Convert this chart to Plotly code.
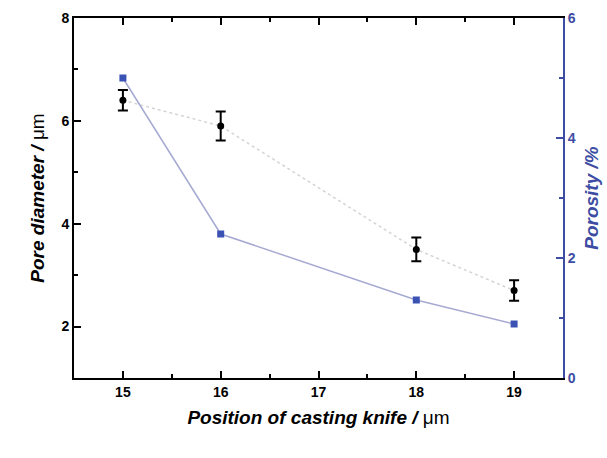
import plotly.graph_objects as go

positions = [15, 16, 18, 19]
pore_diameter = [6.4, 5.9, 3.5, 2.7]
pore_err = [0.2, 0.28, 0.23, 0.2]
porosity = [5.0, 2.4, 1.3, 0.9]

blue = "#3d4da3"
fig = go.Figure()
fig.add_trace(go.Scatter(
    x=positions, y=pore_diameter, mode="lines+markers",
    line=dict(color="#d4d4d4", width=1.5, dash="dot"),
    marker=dict(color="black", size=7, symbol="circle"),
    error_y=dict(type="data", array=pore_err, color="black", thickness=2, width=5),
    yaxis="y", showlegend=False))
fig.add_trace(go.Scatter(
    x=positions, y=porosity, mode="lines+markers",
    line=dict(color="#a6aad2", width=1.5),
    marker=dict(color="#3b52b5", size=7, symbol="square"),
    yaxis="y2", showlegend=False))

tickfont = dict(family="Arial, Liberation Sans", size=14, color="black")
fig.update_layout(
    width=607, height=458,
    margin=dict(l=74, r=44, t=18, b=80),
    paper_bgcolor="white", plot_bgcolor="white",
    xaxis=dict(range=[14.5, 19.5], tickvals=[15, 16, 17, 18, 19],
               ticktext=["<b>15</b>", "<b>16</b>", "<b>17</b>", "<b>18</b>", "<b>19</b>"],
               showline=True, linecolor="black", linewidth=2, mirror="ticks",
               ticks="inside", ticklen=7, tickwidth=1.5, tickcolor="black",
               minor=dict(dtick=0.5, ticks="inside", ticklen=4, tickcolor="black", tickwidth=1.5),
               showgrid=False, zeroline=False, tickfont=tickfont, automargin=False,
               title=dict(text="<b><i>Position of casting knife /</i></b> μm",
                          font=dict(family="Arial, Liberation Sans", size=19, color="black"),
                          standoff=12)),
    yaxis=dict(range=[1, 8], tickvals=[2, 4, 6, 8],
               ticktext=["<b>2</b>", "<b>4</b>", "<b>6</b>", "<b>8</b>"],
               showline=True, linecolor="black", linewidth=2,
               ticks="inside", ticklen=7, tickwidth=1.5, tickcolor="black",
               minor=dict(dtick=1, ticks="inside", ticklen=4, tickcolor="black", tickwidth=1.5),
               showgrid=False, zeroline=False, tickfont=tickfont, automargin=False,
               title=dict(text="<b><i>Pore diameter /</i></b> μm",
                          font=dict(family="Arial, Liberation Sans", size=19, color="black"),
                          standoff=12)),
    yaxis2=dict(range=[0, 6], tickvals=[0, 2, 4, 6],
                ticktext=["<b>0</b>", "<b>2</b>", "<b>4</b>", "<b>6</b>"],
                overlaying="y", side="right",
                showline=True, linecolor=blue, linewidth=2,
                ticks="inside", ticklen=7, tickwidth=1.5, tickcolor=blue,
                minor=dict(dtick=1, ticks="inside", ticklen=4, tickcolor=blue, tickwidth=1.5),
                showgrid=False, zeroline=False, automargin=False,
                tickfont=dict(family="Arial, Liberation Sans", size=14, color=blue),
                title=dict(text="<b><i>Porosity /%</i></b>",
                           font=dict(family="Arial, Liberation Sans", size=19, color=blue),
                           standoff=10)),
)
fig.write_html("out.html")
